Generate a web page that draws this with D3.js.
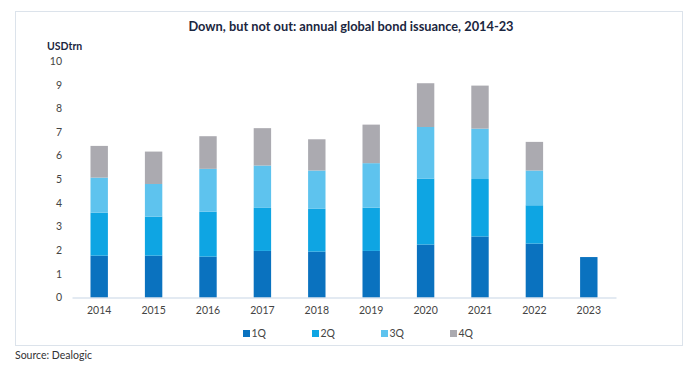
<!DOCTYPE html>
<html><head><meta charset="utf-8">
<script src="https://cdn.jsdelivr.net/npm/d3@7"></script>
<style>body{margin:0;background:#fff;} svg{display:block;font-family:Lato,"Open Sans",sans-serif;}</style>
</head><body>
<svg id="c" width="700" height="370"></svg>
<script>
const years = ["2014","2015","2016","2017","2018","2019","2020","2021","2022","2023"];
const seriesNames = ["1Q","2Q","3Q","4Q"];
const q1 = [1.77,1.77,1.73,1.97,1.94,1.97,2.24,2.58,2.28,1.71];
const q2 = [1.82,1.65,1.90,1.82,1.81,1.83,2.79,2.43,1.62,0];
const q3 = [1.48,1.38,1.81,1.79,1.62,1.88,2.18,2.13,1.47,0];
const q4 = [1.34,1.37,1.38,1.58,1.32,1.63,1.85,1.82,1.21,0];
const yTicks = [0,1,2,3,4,5,6,7,8,9,10];
const colors = ["#0a72bf","#0ea5e3","#5ec3ee","#abaab0"];

const svg = d3.select("#c");
svg.append("rect").attr("x",15.5).attr("y",11.5).attr("width",667).attr("height",334)
  .attr("fill","#fff").attr("stroke","#dce3eb").attr("stroke-width",1);

svg.append("text").attr("x",351).attr("y",31).attr("text-anchor","middle")
  .attr("font-size",12.8).attr("font-weight","bold").attr("fill","#1b2640")
  .text("Down, but not out: annual global bond issuance, 2014-23");
svg.append("text").attr("x",47).attr("y",50).attr("font-size",10.5).attr("font-weight","bold")
  .attr("fill","#1b2640").text("USDtrn");

const x = d3.scaleBand().domain(years).range([72,616]).paddingInner(0.68).paddingOuter(0.34);
const y = d3.scaleLinear().domain([0,10]).range([297.5,61]);

const rows = years.map((yr,i)=>({year:yr,"1Q":q1[i],"2Q":q2[i],"3Q":q3[i],"4Q":q4[i]}));
const stacked = d3.stack().keys(seriesNames)(rows);

svg.append("g").selectAll("g").data(stacked).join("g")
  .attr("fill",(d,i)=>colors[i])
  .selectAll("rect").data(d=>d).join("rect")
  .attr("x",d=>x(d.data.year)).attr("width",x.bandwidth())
  .attr("y",d=>y(d[1])).attr("height",d=>y(d[0])-y(d[1]));

// y axis
const ya = svg.append("g").attr("transform","translate(62,0)")
  .call(d3.axisLeft(y).tickValues(yTicks).tickSize(0).tickPadding(0));
ya.select(".domain").remove();
ya.selectAll("text").attr("font-size",10.5).attr("fill","#444").attr("font-family","Lato,sans-serif");

// x axis
const xa = svg.append("g").attr("transform","translate(0,297.5)")
  .call(d3.axisBottom(x).tickSize(0).tickPadding(9));
xa.select(".domain").attr("stroke","#c8d6e6").attr("stroke-width",1.2);
xa.selectAll("text").attr("font-size",10.5).attr("fill","#444").attr("font-family","Lato,sans-serif");

// legend
const legX = d3.scalePoint().domain(seriesNames).range([243,450]);
const lg = svg.append("g").selectAll("g").data(seriesNames).join("g")
  .attr("transform",d=>`translate(${legX(d)},330)`);
lg.append("rect").attr("width",7).attr("height",7).attr("fill",(d,i)=>colors[i]);
lg.append("text").attr("x",8.5).attr("y",7).attr("font-size",10.5).attr("fill","#444").text(d=>d);

svg.append("text").attr("x",15).attr("y",359).attr("font-size",10.5).attr("fill","#333").text("Source: Dealogic");
</script>
</body></html>
